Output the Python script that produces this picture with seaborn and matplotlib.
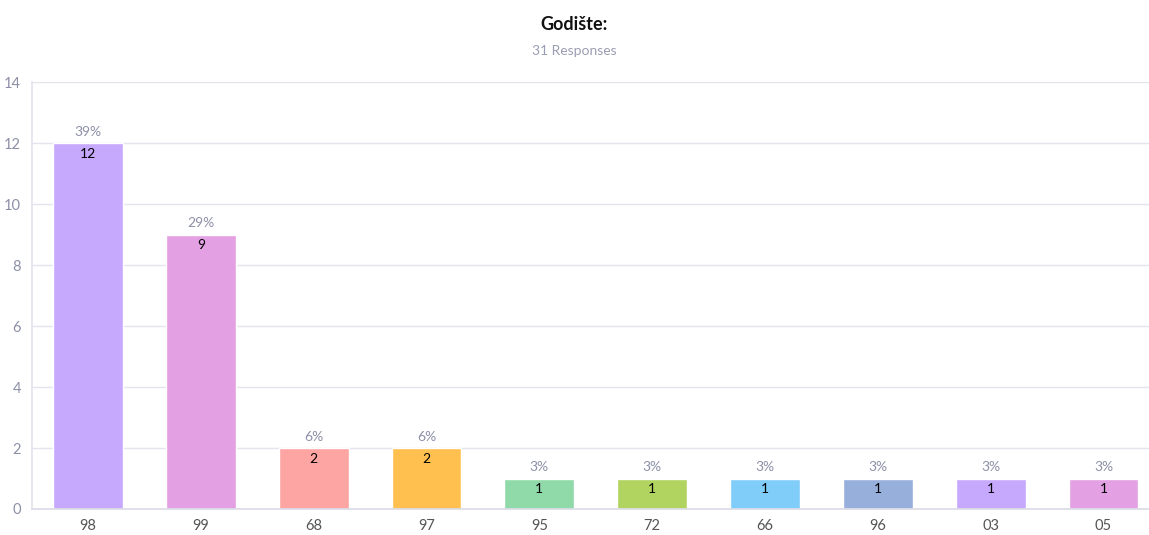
import matplotlib
matplotlib.use("Agg")
import matplotlib.pyplot as plt
import seaborn as sns
import pandas as pd

# Podaci
godine = ["98", "99", "68", "97", "95", "72", "66", "96", "03", "05"]
broj = [12, 9, 2, 2, 1, 1, 1, 1, 1, 1]
postotak = ["39%", "29%", "6%", "6%", "3%", "3%", "3%", "3%", "3%", "3%"]
boje = ["#c6a9fd", "#e3a0e3", "#fca5a3", "#ffc04f", "#90d9a9",
        "#b1d35f", "#80cdfa", "#97afdb", "#c6a9fd", "#e3a0e3"]

df = pd.DataFrame({"godina": godine, "broj": broj})

sns.set_theme(style="white")
plt.rcParams["font.family"] = ["Lato", "DejaVu Sans"]

fig = plt.figure(figsize=(11.49, 5.35), dpi=100)
ax = fig.add_axes([0.0275, 0.0486, 0.982, 0.798])

sns.barplot(data=df, x="godina", y="broj", hue="godina", palette=boje,
            legend=False, width=0.62, ax=ax, saturation=1)

ax.set_ylim(0, 14)
ax.set_xlim(-0.5, len(godine) - 0.5)
ax.set_yticks(range(0, 15, 2))
ax.yaxis.grid(True, color="#e4e4ee", linewidth=1)
ax.set_axisbelow(True)
for s in ["top", "right"]:
    ax.spines[s].set_visible(False)
ax.spines["left"].set_color("#e4e4ee")
ax.spines["bottom"].set_color("#dcdce8")
ax.tick_params(axis="y", colors="#e4e4ee", labelcolor="#8c90a6", labelsize=10.5, length=4)
ax.tick_params(axis="x", colors="#dcdce8", labelcolor="#555555", labelsize=10.5, length=4)
ax.set_xlabel("")
ax.set_ylabel("")

for i, (v, p) in enumerate(zip(broj, postotak)):
    ax.text(i, v + 0.18, p, ha="center", va="bottom", fontsize=10, color="#8c90a6")
    ax.text(i, v - 0.15, str(v), ha="center", va="top", fontsize=10, color="black")

fig.text(0.5, 0.955, "Godište:", ha="center", va="center", fontsize=13,
         fontweight="bold", color="#111111")
fig.text(0.5, 0.905, "31 Responses", ha="center", va="center", fontsize=10,
         color="#9a9db3")

fig.savefig("out.png", dpi=100)
